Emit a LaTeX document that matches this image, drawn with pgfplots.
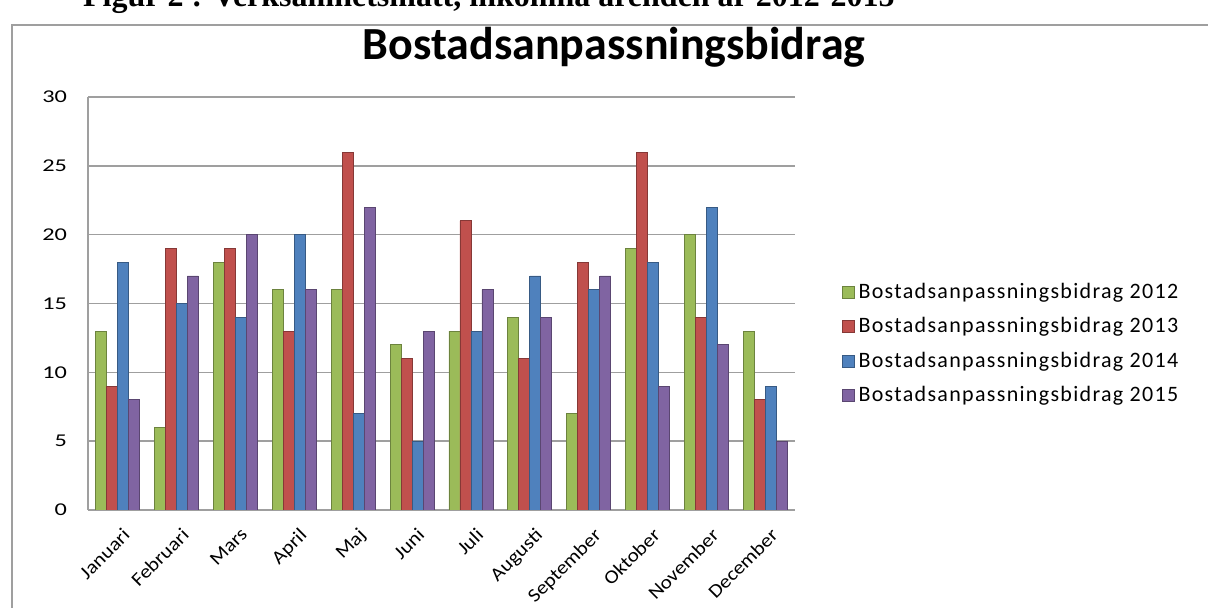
\documentclass[border=0pt]{standalone}
\usepackage{pgfplots}
\pgfplotsset{compat=1.18}
\usepackage{fontspec}
\setmainfont{Carlito}
\newfontfamily\capfont{Liberation Serif}
\newfontfamily\tickfont[FakeStretch=1.35]{Carlito}
\newfontfamily\xtickfont[FakeStretch=1.12]{Carlito}
\definecolor{cA}{HTML}{9BBB59}
\definecolor{cB}{HTML}{C0504D}
\definecolor{cC}{HTML}{4F81BD}
\definecolor{cD}{HTML}{8064A2}
\begin{document}
\begin{tikzpicture}[x=1pt,y=1pt]
\useasboundingbox (0pt,0pt) rectangle (604pt,304pt);
\begin{scope}
\clip (0pt,0pt) rectangle (604pt,304pt);
\node[anchor=base east, font=\capfont\bfseries\fontsize{16}{18}\selectfont, inner sep=0] at (447.5pt,300.5pt) {Figur 2 : Verksamhetsmått, inkomna ärenden år 2012-2015};
\end{scope}
\draw[gray!75, line width=0.8pt] (6pt,0pt) -- (6pt,291.5pt) -- (604pt,291.5pt);
\node[font=\bfseries\fontsize{23}{27}\selectfont] at (307pt,280.5pt) {Bostadsanpassningsbidrag};
\begin{axis}[
  at={(44pt,49pt)}, anchor=south west,
  scale only axis, width=353.5pt, height=206.5pt,
  xmin=-0.5, xmax=11.5, ymin=0, ymax=30,
  ytick={0,5,...,30}, xtick={0,...,11},
  xticklabels={Januari,Februari,Mars,April,Maj,Juni,Juli,Augusti,September,Oktober,November,December},
  ybar=0pt, bar width=5.5pt,
  ymajorgrids, grid style={gray!75, line width=0.8pt},
  axis x line*=bottom, axis y line*=left,
  axis line style={gray!75, line width=0.8pt},
  major tick length=0pt,
  /pgf/number format/assume math mode=true,
  y tick label style={font=\tickfont\fontsize{9}{11}\selectfont, xshift=-7pt},
  x tick label style={font=\xtickfont\fontsize{9.5}{11}\selectfont, rotate=45, anchor=north east, yshift=-4pt, xshift=-1pt},
  legend style={at={(1.057,0.569)}, anchor=north west, draw=none, fill=none,
    font=\addfontfeatures{LetterSpace=6}\fontsize{11}{13}\selectfont, row sep=4pt},
  legend cell align=left,
  legend image code/.code={\fill[#1] (0pt,-3pt) rectangle (6pt,3pt);},
]
\addplot[fill=cA, draw=cA!70!black] coordinates {(0,13) (1,6) (2,18) (3,16) (4,16) (5,12) (6,13) (7,14) (8,7) (9,19) (10,20) (11,13)};
\addplot[fill=cB, draw=cB!70!black] coordinates {(0,9) (1,19) (2,19) (3,13) (4,26) (5,11) (6,21) (7,11) (8,18) (9,26) (10,14) (11,8)};
\addplot[fill=cC, draw=cC!70!black] coordinates {(0,18) (1,15) (2,14) (3,20) (4,7) (5,5) (6,13) (7,17) (8,16) (9,18) (10,22) (11,9)};
\addplot[fill=cD, draw=cD!70!black] coordinates {(0,8) (1,17) (2,20) (3,16) (4,22) (5,13) (6,16) (7,14) (8,17) (9,9) (10,12) (11,5)};
\legend{Bostadsanpassningsbidrag 2012,Bostadsanpassningsbidrag 2013,Bostadsanpassningsbidrag 2014,Bostadsanpassningsbidrag 2015}
\end{axis}
\end{tikzpicture}
\end{document}
